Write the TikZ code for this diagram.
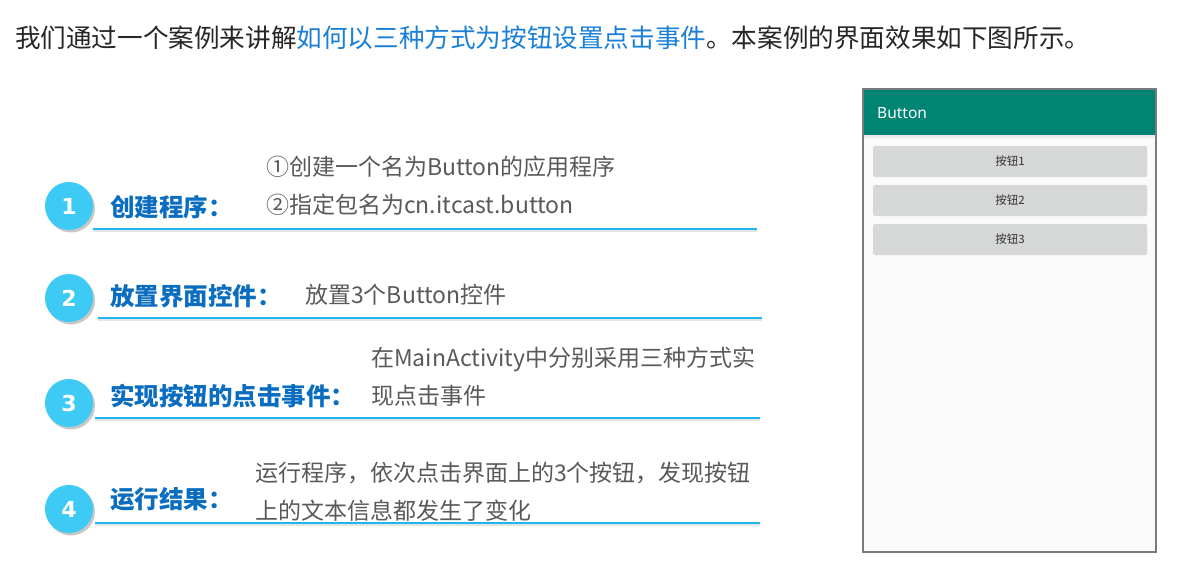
\documentclass[tikz,border=0pt]{standalone}
\usepackage{fontspec}
\usepackage{tikz}
\usetikzlibrary{calc}
\setmainfont{Noto Sans CJK SC}
\newfontfamily\numfont{DejaVu Sans}
\newfontfamily\appfont{Noto Sans}
\definecolor{titleblue}{HTML}{1A7FD6}
\definecolor{lablblue}{HTML}{0B6DBF}
\definecolor{ballcyan}{HTML}{3DCBF5}
\definecolor{linecyan}{HTML}{1EB6EC}
\definecolor{textgray}{HTML}{595959}
\definecolor{barteal}{HTML}{008473}
\definecolor{btngray}{HTML}{D6D7D7}
\definecolor{screengray}{HTML}{FAFAFA}
\definecolor{framegray}{HTML}{7A7A7A}
\newcommand{\stepball}[4]{\fill[black!22] ( #1 + 2 , #2 + 2.5 ) circle (24pt); \node[shape=circle,fill=ballcyan,text=white,inner sep=0pt,minimum size=48pt,font=\numfont\bfseries\fontsize{22}{22}\selectfont] (#3) at ( #1 , #2 ) {#4};}
\newcommand{\stepline}[3]{\draw[black!10, line width=2pt] ( #1 , #2 + 2 ) -- ( #3 , #2 + 2 ); \draw[linecyan, line width=1.3pt] ( #1 , #2 ) -- ( #3 , #2 );}
\newcommand{\steplabl}[3]{\node[anchor=west,inner sep=0pt,text=lablblue,font=\bfseries\fontsize{24.5}{24.5}\selectfont] (#2) at ( 110 , #1 ) {#3};}
\newcommand{\steptext}[4]{\node[anchor=west,inner sep=0pt,align=left,text=textgray,font=\fontsize{23}{38}\selectfont] (#3) at ( #1 , #2 ) {#4};}
\newcommand{\appbtn}[3]{\fill[btngray, rounded corners=1.5pt] ( 873 , #1 ) rectangle ( 1147 , #1 + 31 ); \node[inner sep=0pt,text=black!80,font=\fontsize{11.5}{11.5}\selectfont] (#2) at ( 1010 , #1 + 15.5 ) {#3};}

\begin{document}
\begin{tikzpicture}[x=1pt,y=-1pt]

        \useasboundingbox (0,0) rectangle (1178,586);

        % title
        \node[anchor=west,inner sep=0pt,text=black!85,font=\fontsize{25.6}{25.6}\selectfont] (ttl) at (15,38) {我们通过一个案例来讲解\textcolor{titleblue}{如何以三种方式为按钮设置点击事件}。本案例的界面效果如下图所示。};

        % step1
        \stepball{69}{206}{ball1}{1}
        \steplabl{207}{lab1}{创建程序：}
        \steptext{266}{186}{txt1}{①创建一个名为Button的应用程序\\②指定包名为cn.itcast.button}
        \stepline{93}{229}{757}

        % step2
        \stepball{69}{298}{ball2}{2}
        \steplabl{296}{lab2}{放置界面控件：}
        \steptext{305}{295}{txt2}{放置3个Button控件}
        \stepline{98}{318}{762}

        % step3
        \stepball{69}{403}{ball3}{3}
        \steplabl{396}{lab3}{实现按钮的点击事件：}
        \steptext{371}{377}{txt3}{在MainActivity中分别采用三种方式实\\现点击事件}
        \stepline{95}{418}{760}

        % step4
        \stepball{69}{509}{ball4}{4}
        \steplabl{499}{lab4}{运行结果：}
        \steptext{255}{492}{txt4}{运行程序，依次点击界面上的3个按钮，发现按钮\\上的文本信息都发生了变化}
        \stepline{95}{523}{760}

        % phone screen
        \draw[framegray, fill=screengray, line width=1.2pt] (863,89) rectangle (1156,552);
        \fill[black!8] (863.6,135) rectangle (1155.4,138);
        \fill[barteal] (863.6,89.6) rectangle (1155.4,135);
        \node[anchor=west,inner sep=0pt,text=white,font=\appfont\fontsize{15.5}{15.5}\selectfont] (apptitle) at (877,113) {Button};

        \appbtn{146}{btn1}{按钮1}
        \appbtn{185}{btn2}{按钮2}
        \appbtn{224}{btn3}{按钮3}

    \end{tikzpicture}
\end{document}
